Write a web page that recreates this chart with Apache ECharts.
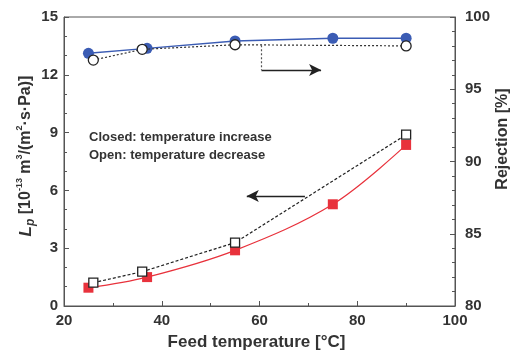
<!DOCTYPE html>
<html>
<head>
<meta charset="utf-8">
<style>
  html, body { margin: 0; padding: 0; background: #fff; }
  #chart { width: 513px; height: 358px; }
</style>
<script src="https://cdn.jsdelivr.net/npm/echarts@6/dist/echarts.min.js"></script>
</head>
<body>
<div id="chart"></div>
<script>
// Feed temperature [°C] for the heating (closed) and cooling (open) runs
const tempClosed = [25, 37, 55, 75, 90];
const tempOpen = [26, 36, 55, 90];

// Permeability Lp [10^-13 m^3/(m^2·s·Pa)]
const lpClosed = [0.95, 1.5, 2.89, 5.28, 8.36];
const lpOpen = [1.21, 1.78, 3.29, 8.89];

// Rejection [%]
const rejClosed = [97.49, 97.83, 98.34, 98.53, 98.53];
const rejOpen = [97.02, 97.76, 98.08, 98.0];

// Axis tick labels
const xTicks = [20, 40, 60, 80, 100];
const lpTicks = [0, 3, 6, 9, 12, 15];
const rejTicks = [80, 85, 90, 95, 100];

const FONT = '"Liberation Sans", Arial, sans-serif';
const INK = '#333';
const AXIS = '#555';

const pairs = (xs, ys) => xs.map((x, i) => [x, ys[i]]);

const chart = echarts.init(document.getElementById('chart'), null, { renderer: 'canvas' });

const tickLabel = { color: INK, fontFamily: FONT, fontWeight: 'bold', fontSize: 15 };

chart.setOption({
  animation: false,
  backgroundColor: '#fff',
  grid: {
    left: 64, right: 58, top: 17, bottom: 52,
    show: true, borderColor: AXIS, borderWidth: 1
  },
  xAxis: {
    type: 'value',
    min: xTicks[0], max: xTicks[xTicks.length - 1], interval: xTicks[1] - xTicks[0],
    axisLine: { lineStyle: { color: AXIS, width: 1 } },
    axisTick: { inside: true, length: 5, lineStyle: { color: AXIS } },
    minorTick: { show: true, splitNumber: 2, length: 3, lineStyle: { color: AXIS } },
    splitLine: { show: false },
    axisLabel: Object.assign({ margin: 7 }, tickLabel)
  },
  yAxis: [
    {
      type: 'value', position: 'left',
      min: lpTicks[0], max: lpTicks[lpTicks.length - 1], interval: lpTicks[1] - lpTicks[0],
      axisLine: { show: true, lineStyle: { color: AXIS, width: 1 } },
      axisTick: { show: true, inside: true, length: 5, lineStyle: { color: AXIS } },
      minorTick: { show: true, splitNumber: 3, length: 3, lineStyle: { color: AXIS } },
      splitLine: { show: false },
      axisLabel: Object.assign({ margin: 6 }, tickLabel)
    },
    {
      type: 'value', position: 'right',
      min: rejTicks[0], max: rejTicks[rejTicks.length - 1], interval: rejTicks[1] - rejTicks[0],
      axisLine: { show: true, lineStyle: { color: AXIS, width: 1 } },
      axisTick: { show: true, inside: true, length: 5, lineStyle: { color: AXIS } },
      minorTick: { show: true, splitNumber: 5, length: 3, lineStyle: { color: AXIS } },
      splitLine: { show: false },
      axisLabel: Object.assign({ margin: 10 }, tickLabel)
    }
  ],
  graphic: [
    {
      type: 'text', left: 'center', top: 334,
      style: { text: 'Feed temperature [°C]', fill: INK, font: 'bold 17px ' + FONT }
    },
    {
      type: 'text', x: 503, y: 139, rotation: Math.PI / 2,
      style: {
        text: 'Rejection [%]', fill: INK, font: 'bold 16px ' + FONT,
        align: 'center', verticalAlign: 'middle'
      }
    },
    {
      type: 'text', x: 26, y: 156, rotation: Math.PI / 2,
      style: {
        text: '{i|L}{isub|p}{n| [10}{sup|-13}{n| m}{sup|3}{n|/(m}{sup|2}{n|·s·Pa)]}',
        align: 'center', verticalAlign: 'middle',
        rich: {
          n: { fill: INK, fontFamily: FONT, fontWeight: 'bold', fontSize: 16, lineHeight: 22, verticalAlign: 'middle' },
          i: { fill: INK, fontFamily: FONT, fontWeight: 'bold', fontStyle: 'italic', fontSize: 17, lineHeight: 22, verticalAlign: 'middle' },
          isub: { fill: INK, fontFamily: FONT, fontWeight: 'bold', fontStyle: 'italic', fontSize: 12, lineHeight: 12, verticalAlign: 'bottom' },
          sup: { fill: INK, fontFamily: FONT, fontWeight: 'bold', fontSize: 9, lineHeight: 9, verticalAlign: 'top' }
        }
      }
    },
    {
      type: 'text', x: 89, y: 131,
      style: { text: 'Closed: temperature increase', fill: INK, font: 'bold 13px ' + FONT }
    },
    {
      type: 'text', x: 89, y: 149,
      style: { text: 'Open: temperature decrease', fill: INK, font: 'bold 13px ' + FONT }
    }
  ],
  series: [
    {
      name: 'Lp closed', type: 'line', yAxisIndex: 0, smooth: 0.35,
      data: pairs(tempClosed, lpClosed),
      symbol: 'rect', symbolSize: 10,
      lineStyle: { color: '#e8323c', width: 1.2 },
      itemStyle: { color: '#e8323c' },
      z: 3,
      markLine: {
        silent: true, symbol: ['none', 'arrow'], symbolSize: [9, 12],
        label: { show: false },
        lineStyle: { color: '#222', width: 1.3, type: 'solid' },
        data: [[{ coord: [69.3, 5.71] }, { coord: [57.4, 5.71] }]]
      }
    },
    {
      name: 'Lp open', type: 'line', yAxisIndex: 0,
      data: pairs(tempOpen, lpOpen),
      symbol: 'rect', symbolSize: 9,
      lineStyle: { color: '#222', width: 1.2, type: [3, 2] },
      itemStyle: { color: '#fff', borderColor: '#222', borderWidth: 1.3 },
      z: 4
    },
    {
      name: 'Rejection closed', type: 'line', yAxisIndex: 1,
      data: pairs(tempClosed, rejClosed),
      symbol: 'circle', symbolSize: 11,
      lineStyle: { color: '#3b5cb4', width: 1.3 },
      itemStyle: { color: '#3b5cb4' },
      z: 3,
      markLine: {
        silent: true, symbol: ['none', 'arrow'], symbolSize: [9, 12],
        label: { show: false },
        lineStyle: { color: '#222', width: 1.3, type: 'solid' },
        data: [[{ coord: [60.4, 96.33] }, { coord: [72.6, 96.33] }]]
      }
    },
    {
      name: 'Rejection open', type: 'line', yAxisIndex: 1,
      data: pairs(tempOpen, rejOpen),
      symbol: 'circle', symbolSize: 10,
      lineStyle: { color: '#333', width: 1.2, type: [2, 2] },
      itemStyle: { color: '#fff', borderColor: '#222', borderWidth: 1.3 },
      z: 4,
      markLine: {
        silent: true, symbol: ['none', 'none'],
        label: { show: false },
        lineStyle: { color: '#555', width: 1.2, type: [2, 2] },
        data: [[{ coord: [60.4, 98.05] }, { coord: [60.4, 96.33] }]]
      }
    }
  ]
});
</script>
</body>
</html>
